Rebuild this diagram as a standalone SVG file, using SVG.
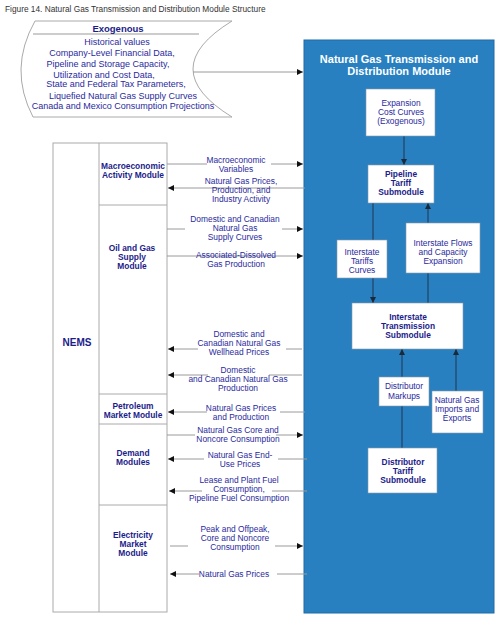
<svg xmlns="http://www.w3.org/2000/svg" width="500" height="622" viewBox="0 0 500 622">
<defs>
<style>
.t{font-family:"Liberation Sans",Arial,sans-serif;font-size:8.4px;fill:#2a2a9e;text-anchor:middle}
.b{font-family:"Liberation Sans",Arial,sans-serif;font-size:8.4px;font-weight:bold;fill:#1c1c8a;text-anchor:middle}
.ln{stroke:#9a9a9a;stroke-width:1;fill:none}
.bl{stroke:#1e3550;stroke-width:1;fill:none}
.box{fill:#ffffff;stroke:#8a9aaa;stroke-width:0.6}
.gbox{fill:none;stroke:#aaaaaa;stroke-width:1}
</style>
<marker id="ar" viewBox="0 0 10 10" refX="10" refY="5" markerWidth="7" markerHeight="6" markerUnits="userSpaceOnUse" orient="auto">
<path d="M0,0 L10,5 L0,10 Z" fill="#111111"/>
</marker>
<marker id="ab" viewBox="0 0 10 10" refX="10" refY="5" markerWidth="7" markerHeight="6" markerUnits="userSpaceOnUse" orient="auto">
<path d="M0,0 L10,5 L0,10 Z" fill="#1a2a3a"/>
</marker>
</defs>
<rect width="500" height="622" fill="#ffffff"/>
<text x="5" y="12" font-family="'Liberation Sans',Arial,sans-serif" font-size="8.3" fill="#333333">Figure 14. Natural Gas Transmission and Distribution Module Structure</text>

<g id="exogenous">
<path d="M35,21 L232,21 Q154,69 232,117 L33,117 Q8,69 35,21 Z" fill="#ffffff" stroke="#aaaaaa" stroke-width="1"/>
<line x1="33" y1="34" x2="199" y2="34" class="ln"/>
<text x="118" y="31.5" class="b" style="font-size:9.5px">Exogenous</text>
<text x="117" y="45" class="t" style="font-size:9px">Historical values</text>
<text x="112" y="55.5" class="t" style="font-size:9px">Company-Level Financial Data,</text>
<text x="108" y="67" class="t" style="font-size:9px">Pipeline and Storage Capacity,</text>
<text x="104" y="77.5" class="t" style="font-size:9px">Utilization and Cost Data,</text>
<text x="116" y="86.5" class="t" style="font-size:9px">State and Federal Tax Parameters,</text>
<text x="123" y="98.5" class="t" style="font-size:9px">Liquefied Natural Gas Supply Curves</text>
<text x="123" y="108.5" class="t" style="font-size:9px">Canada and Mexico Consumption Projections</text>
</g>

<g id="nems">
<rect x="53" y="143" width="114" height="469" class="gbox"/>
<line x1="99" y1="143" x2="99" y2="612" class="gbox"/>
<text x="77" y="346" class="b" style="font-size:10px">NEMS</text>
</g>
<g id="macro">
<line x1="99" y1="205" x2="167" y2="205" class="gbox"/>
<text x="133" y="169" class="b">Macroeconomic</text>
<text x="133" y="178" class="b">Activity Module</text>
</g>
<g id="oilgas">
<line x1="99" y1="394" x2="167" y2="394" class="gbox"/>
<text x="132" y="251" class="b">Oil and Gas</text>
<text x="132" y="260" class="b">Supply</text>
<text x="132" y="269" class="b">Module</text>
</g>
<g id="petroleum">
<line x1="99" y1="424" x2="167" y2="424" class="gbox"/>
<text x="133" y="409" class="b">Petroleum</text>
<text x="133" y="418" class="b">Market Module</text>
</g>
<g id="demand">
<line x1="99" y1="505" x2="167" y2="505" class="gbox"/>
<text x="133" y="456" class="b">Demand</text>
<text x="133" y="465" class="b">Modules</text>
</g>
<g id="electricity">
<text x="133" y="538" class="b">Electricity</text>
<text x="133" y="547" class="b">Market</text>
<text x="133" y="556" class="b">Module</text>
</g>

<g id="ngtdm">
<rect x="304" y="40" width="190" height="573" fill="#2880c1" stroke="#1f6aa5" stroke-width="1"/>
<text x="399" y="63" class="b" style="fill:#ffffff;font-size:11px">Natural Gas Transmission and</text>
<text x="399" y="75" class="b" style="fill:#ffffff;font-size:11px">Distribution Module</text>
</g>

<g id="connectors">
<line x1="193" y1="72" x2="303" y2="72" class="ln" marker-end="url(#ar)"/>
<line x1="167" y1="164" x2="207" y2="164" class="ln"/>
<line x1="271" y1="164" x2="303" y2="164" class="ln" marker-end="url(#ar)"/>
<line x1="305" y1="188" x2="168" y2="188" class="ln" marker-end="url(#ar)"/>
<line x1="167" y1="229" x2="185" y2="229" class="ln"/>
<line x1="282" y1="229" x2="303" y2="229" class="ln" marker-end="url(#ar)"/>
<line x1="167" y1="256" x2="303" y2="256" class="ln" marker-end="url(#ar)"/>
<line x1="302" y1="349" x2="286" y2="349" class="ln"/>
<line x1="198" y1="349" x2="168" y2="349" class="ln" marker-end="url(#ar)"/>
<line x1="302" y1="375" x2="269" y2="375" class="ln"/>
<line x1="208" y1="375" x2="168" y2="375" class="ln" marker-end="url(#ar)"/>
<line x1="305" y1="412" x2="280" y2="412" class="ln"/>
<line x1="207" y1="412" x2="168" y2="412" class="ln" marker-end="url(#ar)"/>
<line x1="167" y1="435" x2="195" y2="435" class="ln"/>
<line x1="276" y1="435" x2="303" y2="435" class="ln" marker-end="url(#ar)"/>
<line x1="307" y1="459" x2="278" y2="459" class="ln"/>
<line x1="204" y1="459" x2="168" y2="459" class="ln" marker-end="url(#ar)"/>
<line x1="307" y1="491" x2="272" y2="491" class="ln"/>
<line x1="202" y1="491" x2="169" y2="491" class="ln" marker-end="url(#ar)"/>
<line x1="170" y1="546" x2="188" y2="546" class="ln"/>
<line x1="275" y1="546" x2="303" y2="546" class="ln" marker-end="url(#ar)"/>
<line x1="307" y1="574" x2="277" y2="574" class="ln"/>
<line x1="199" y1="574" x2="170" y2="574" class="ln" marker-end="url(#ar)"/>

<line x1="404" y1="136" x2="404" y2="165" class="bl" marker-end="url(#ab)"/>
<line x1="373" y1="203" x2="373" y2="303" class="bl" marker-end="url(#ab)"/>
<line x1="428" y1="303" x2="428" y2="203" class="bl" marker-end="url(#ab)"/>
<line x1="402" y1="448" x2="402" y2="349" class="bl" marker-end="url(#ab)"/>
<line x1="456" y1="391" x2="456" y2="349" class="bl" marker-end="url(#ab)"/>

<text x="236" y="163" class="t">Macroeconomic</text>
<text x="236" y="172" class="t">Variables</text>
<text x="241" y="184" class="t">Natural Gas Prices,</text>
<text x="241" y="193" class="t">Production, and</text>
<text x="241" y="202" class="t">Industry Activity</text>
<text x="235" y="222" class="t">Domestic and Canadian</text>
<text x="235" y="231" class="t">Natural Gas</text>
<text x="235" y="240" class="t">Supply Curves</text>
<text x="236" y="258" class="t">Associated-Dissolved</text>
<text x="236" y="267" class="t">Gas Production</text>
<text x="239" y="337" class="t">Domestic and</text>
<text x="239" y="346" class="t">Canadian Natural Gas</text>
<text x="239" y="355" class="t">Wellhead Prices</text>
<text x="238" y="373" class="t">Domestic</text>
<text x="238" y="382" class="t">and Canadian Natural Gas</text>
<text x="238" y="391" class="t">Production</text>
<text x="241" y="411" class="t">Natural Gas Prices</text>
<text x="241" y="420" class="t">and Production</text>
<text x="238" y="433" class="t">Natural Gas Core and</text>
<text x="238" y="442" class="t">Noncore Consumption</text>
<text x="240" y="458" class="t">Natural Gas End-</text>
<text x="240" y="467" class="t">Use Prices</text>
<text x="239" y="483" class="t">Lease and Plant Fuel</text>
<text x="239" y="492" class="t">Consumption,</text>
<text x="239" y="501" class="t">Pipeline Fuel Consumption</text>
<text x="235" y="532" class="t">Peak and Offpeak,</text>
<text x="235" y="541" class="t">Core and Noncore</text>
<text x="235" y="550" class="t">Consumption</text>
<text x="234" y="577" class="t">Natural Gas Prices</text>
</g>

<g id="expansion">
<rect x="366" y="89" width="69" height="47" class="box"/>
<text x="401" y="106" class="t">Expansion</text>
<text x="401" y="115" class="t">Cost Curves</text>
<text x="401" y="124" class="t">(Exogenous)</text>
</g>
<g id="pipeline">
<rect x="368" y="165" width="66" height="38" class="box"/>
<text x="401" y="177" class="b">Pipeline</text>
<text x="401" y="186" class="b">Tariff</text>
<text x="401" y="195" class="b">Submodule</text>
</g>
<g id="tariffcurves">
<rect x="337" y="240" width="50" height="38" class="box"/>
<text x="362" y="255" class="t">Interstate</text>
<text x="362" y="264" class="t">Tariffs</text>
<text x="362" y="273" class="t">Curves</text>
</g>
<g id="flows">
<rect x="406" y="223" width="74" height="50" class="box"/>
<text x="443" y="245.5" class="t">Interstate Flows</text>
<text x="443" y="254.5" class="t">and Capacity</text>
<text x="443" y="263.5" class="t">Expansion</text>
</g>
<g id="interstate">
<rect x="352" y="303" width="111" height="46" class="box"/>
<text x="408" y="320" class="b">Interstate</text>
<text x="408" y="329" class="b">Transmission</text>
<text x="408" y="338" class="b">Submodule</text>
</g>
<g id="markups">
<rect x="379" y="377" width="50" height="29" class="box"/>
<text x="404" y="389" class="t">Distributor</text>
<text x="404" y="399" class="t">Markups</text>
</g>
<g id="imports">
<rect x="432" y="391" width="51" height="42" class="box"/>
<text x="457" y="403" class="t">Natural Gas</text>
<text x="457" y="412" class="t">Imports and</text>
<text x="457" y="421" class="t">Exports</text>
</g>
<g id="distributor">
<rect x="368" y="448" width="69" height="45" class="box"/>
<text x="403" y="465" class="b">Distributor</text>
<text x="403" y="474" class="b">Tariff</text>
<text x="403" y="483" class="b">Submodule</text>
</g>
</svg>
